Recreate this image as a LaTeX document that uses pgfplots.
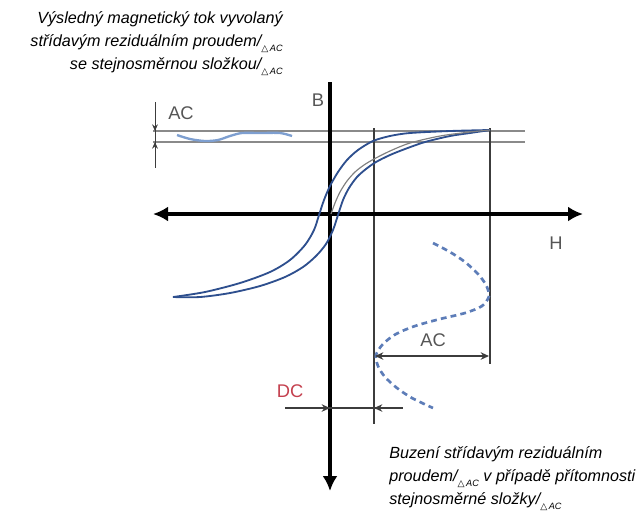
\documentclass[border=0pt]{standalone}
\usepackage{fontspec}
\setmainfont{Liberation Sans}
\newfontfamily\sym{DejaVu Sans}
\usepackage{pgfplots}
\pgfplotsset{compat=1.18}
\usetikzlibrary{arrows.meta}
\definecolor{loopblue}{HTML}{2E4F8E}
\definecolor{waveblue}{HTML}{7E9FD0}
\definecolor{dashblue}{HTML}{5D7DB8}
\definecolor{satgray}{HTML}{8A8A8A}
\definecolor{linegray}{HTML}{3C3C3C}
\definecolor{labelgray}{HTML}{555555}
\definecolor{dcred}{HTML}{C4404E}
\newcommand{\dac}{/\raisebox{-0.6ex}{\fontsize{5.5}{6}\selectfont{\sym △}\,\itshape AC}}
\begin{document}
\begin{tikzpicture}
\begin{axis}[
  width=384pt, height=307.2pt, scale only axis,
  xmin=0, xmax=640, ymin=0, ymax=512, y dir=reverse,
  hide axis, clip=false,
]
% saturation band
\addplot[satgray, line width=1.3pt] coordinates {(153,131) (525,131)};
\addplot[satgray, line width=1.3pt] coordinates {(153,142) (525,142)};
% ripple inside the band
\addplot[waveblue, line width=1.4pt, smooth] coordinates {
  (177,135) (190,139) (205,141) (218,140) (230,136) (242,133) (260,133) (280,133) (292,136)};
% DC and DC+AC verticals
\addplot[linegray, line width=1.2pt] coordinates {(374,128) (374,424)};
\addplot[linegray, line width=1.2pt] coordinates {(490,128) (490,364)};
% axes
\addplot[black, line width=2.5pt, {Latex[length=9pt,width=9pt]}-{Latex[length=9pt,width=9pt]}] coordinates {(153,214) (583,214)};
\addplot[black, line width=2.5pt, -{Latex[length=9pt,width=9pt]}] coordinates {(330,82) (330,491)};
% hysteresis loop
\addplot[loopblue, line width=1.1pt, smooth] coordinates {
  (173,297) (205,292) (240,283) (270,272) (290,260) (305,245) (314,230)
  (319,215) (324,200) (330,186) (338,172) (347,160) (358,150) (373,141)
  (390,136) (410,133) (450,131) (490,130)};
\addplot[loopblue, line width=1.1pt, smooth] coordinates {
  (173,297) (200,297) (230,293) (260,286) (285,277) (303,267) (316,256)
  (326,244) (333,230) (338,215) (343,200) (349,188) (357,177) (366,169)
  (376,162) (390,155) (405,149) (425,142) (450,136) (470,133) (490,130)};
% initial magnetisation curve
\addplot[gray, line width=0.7pt, smooth] coordinates {
  (331,214) (335,203) (340,192) (347,181) (355,172) (364,165) (374,159)
  (390,151) (410,143) (440,136) (470,132) (490,130)};
% excitation wave
\addplot[dashblue, line width=1.6pt, dash pattern=on 3.5pt off 2.5pt, smooth] coordinates {
  (433,243) (450,252) (465,262) (478,274) (486,285) (489,296) (482,306)
  (465,313) (440,319) (415,326) (396,334) (383,344) (376,355)
  (378,366) (385,377) (397,388) (412,398) (433,408)};
% AC ripple dimension (top left)
\addplot[linegray, line width=0.6pt] coordinates {(155,102) (155,168)};
\addplot[linegray, line width=0.6pt, -{Stealth[length=4pt,width=3.5pt]}] coordinates {(155,115) (155,131)};
\addplot[linegray, line width=0.6pt, -{Stealth[length=4pt,width=3.5pt]}] coordinates {(155,158) (155,142)};
% AC dimension (bottom)
\addplot[linegray, line width=1pt, {Stealth[length=5pt,width=4.5pt]}-{Stealth[length=5pt,width=4.5pt]}] coordinates {(375,356) (489,356)};
% DC dimension
\addplot[linegray, line width=1pt] coordinates {(285,408) (403,408)};
\addplot[linegray, line width=1pt, -{Stealth[length=5pt,width=4.5pt]}] coordinates {(300,408) (330,408)};
\addplot[linegray, line width=1pt, -{Stealth[length=5pt,width=4.5pt]}] coordinates {(395,408) (374,408)};
% labels
\node[labelgray, font=\fontsize{11}{12}\selectfont] at (axis cs:318,100) {B};
\node[labelgray, font=\fontsize{11}{12}\selectfont] at (axis cs:556,243) {H};
\node[labelgray, font=\fontsize{11}{12}\selectfont] at (axis cs:181,113) {AC};
\node[labelgray, font=\fontsize{11}{12}\selectfont] at (axis cs:433,340) {AC};
\node[dcred, font=\fontsize{11}{12}\selectfont] at (axis cs:290,391) {DC};
% captions
\begin{scope}[font=\fontsize{9.7}{11}\selectfont\itshape]
\node[anchor=base east, inner sep=0pt] at (axis cs:283,23) {Výsledný magnetický tok vyvolaný};
\node[anchor=base east, inner sep=0pt] at (axis cs:283,46) {střídavým reziduálním proudem\dac};
\node[anchor=base east, inner sep=0pt] at (axis cs:283,69) {se stejnosměrnou složkou\dac};
\node[anchor=base west, inner sep=0pt] at (axis cs:389,458) {Buzení střídavým reziduálním};
\node[anchor=base west, inner sep=0pt] at (axis cs:389,481) {proudem\dac\ v případě přítomnosti};
\node[anchor=base west, inner sep=0pt] at (axis cs:389,504) {stejnosměrné složky\dac};
\end{scope}
\end{axis}
\pgfresetboundingbox
\path (current axis.south west) rectangle (current axis.north east);
\end{tikzpicture}
\end{document}
